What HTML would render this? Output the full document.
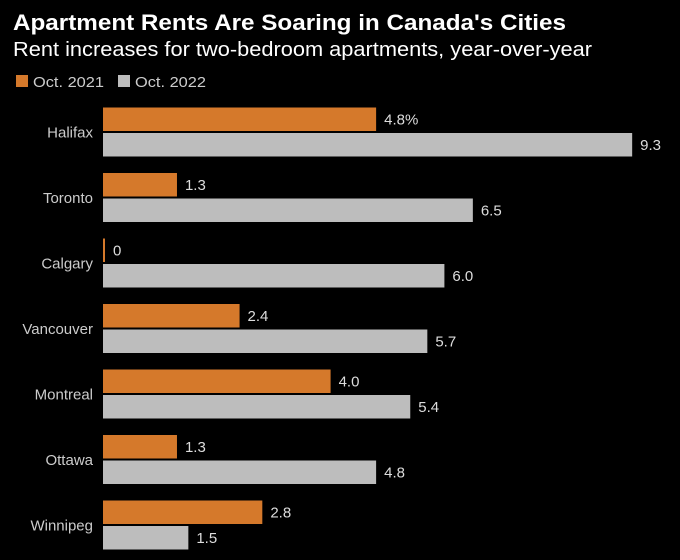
<!DOCTYPE html>
<html><head><meta charset="utf-8"><style>
body{margin:0;background:#000;}
svg{display:block;font-family:"Liberation Sans",sans-serif;}
</style></head><body>
<svg id="chart" width="680" height="560">
<rect width="680" height="560" fill="#000"/>
<text x="13" y="30" fill="#fff" font-size="22" font-weight="bold" textLength="553" lengthAdjust="spacingAndGlyphs">Apartment Rents Are Soaring in Canada's Cities</text>
<text x="13" y="56" fill="#fff" font-size="20" textLength="579" lengthAdjust="spacingAndGlyphs">Rent increases for two-bedroom apartments, year-over-year</text>
<g>
<g><rect x="16" y="75" width="12" height="12" fill="#d5792b"/><text x="33" y="87" fill="#ccc" font-size="15" textLength="71" lengthAdjust="spacingAndGlyphs">Oct. 2021</text></g>
<g><rect x="118" y="75" width="12" height="12" fill="#bdbdbd"/><text x="135" y="87" fill="#ccc" font-size="15" textLength="71" lengthAdjust="spacingAndGlyphs">Oct. 2022</text></g>
</g>
<g id="plot"></g>
</svg>
<script>
const categories=["Halifax","Toronto","Calgary","Vancouver","Montreal","Ottawa","Winnipeg"];
const values2021=[4.8,1.3,0,2.4,4.0,1.3,2.8];
const values2022=[9.3,6.5,6.0,5.7,5.4,4.8,1.5];
const labels2021=["4.8%","1.3","0","2.4","4.0","1.3","2.8"];
const labels2022=["9.3","6.5","6.0","5.7","5.4","4.8","1.5"];
const NS="http://www.w3.org/2000/svg";
const x0=103, pxPerUnit=56.9;
const xScale=v=>x0+v*pxPerUnit;
const yTop=i=>107.5+i*65.5;
const g=document.getElementById('plot');
function mk(tag,attrs){const e=document.createElementNS(NS,tag);for(const k in attrs)e.setAttribute(k,attrs[k]);return e;}
categories.forEach((c,i)=>{
  const y=yTop(i);
  const t=mk('text',{x:93,y:y+30,fill:'#ccc','font-size':15,'text-anchor':'end'});
  t.textContent=c;
  
  
  g.appendChild(t);
  [[values2021,labels2021,'#d5792b',0,'2021'],[values2022,labels2022,'#bdbdbd',25.5,'2022']].forEach(([vals,labs,col,dy,yr])=>{
    const w=Math.max(vals[i]*pxPerUnit,2);
    const r=mk('rect',{x:x0,y:y+dy,width:w,height:23.5,fill:col});
    
    
    g.appendChild(r);
    const l=mk('text',{x:x0+w+8,y:y+dy+17,fill:'#ddd','font-size':15});
    l.textContent=labs[i];
    
    
    g.appendChild(l);
  });
});
</script>
</body></html>
